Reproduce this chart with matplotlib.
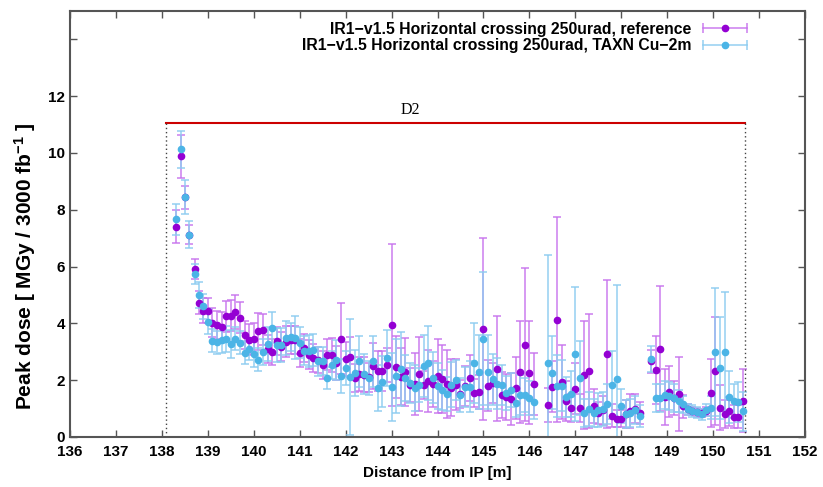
import numpy as np
import matplotlib
matplotlib.use("Agg")
import matplotlib.pyplot as plt
from matplotlib.lines import Line2D
from matplotlib.legend_handler import HandlerLine2D, HandlerTuple

plt.rcParams['font.family'] = ['Liberation Sans', 'DejaVu Sans']
plt.rcParams['mathtext.default'] = 'regular'

# position along the beam line [m]
dist = [138.31, 138.41, 138.50, 138.60, 138.72, 138.80, 138.90, 139.00, 139.10, 139.20,
        139.30, 139.40, 139.50, 139.60, 139.70, 139.80, 139.90, 140.00, 140.10, 140.20,
        140.30, 140.40, 140.50, 140.60, 140.70, 140.80, 140.90, 141.00, 141.10, 141.20,
        141.30, 141.40, 141.50, 141.60, 141.70, 141.80, 141.90, 142.00, 142.10, 142.20,
        142.30, 142.40, 142.50, 142.60, 142.70, 142.80, 142.90, 143.00, 143.10, 143.20,
        143.30, 143.40, 143.50, 143.60, 143.70, 143.80, 143.90, 144.00, 144.10, 144.20,
        144.30, 144.40, 144.50, 144.60, 144.70, 144.80, 144.90, 145.00, 145.10, 145.20,
        145.30, 145.40, 145.50, 145.60, 145.70, 145.80, 145.90, 146.00, 146.10, 146.40,
        146.50, 146.60, 146.70, 146.80, 146.90, 147.00, 147.10, 147.20, 147.30, 147.40,
        147.50, 147.60, 147.70, 147.80, 147.90, 148.00, 148.10, 148.20, 148.30, 148.40,
        148.65, 148.75, 148.85, 148.95, 149.05, 149.15, 149.25, 149.35, 149.45, 149.55,
        149.65, 149.75, 149.85, 149.95, 150.05, 150.15, 150.25, 150.35, 150.45, 150.55,
        150.65]

# reference
dose_ref = [7.41, 9.88, 8.44, 7.13, 5.93, 4.73, 4.45, 4.45, 4.03, 3.95,
            3.89, 4.25, 4.27, 4.41, 4.20, 3.60, 3.42, 3.46, 3.72, 3.78,
            3.10, 3.00, 3.39, 3.18, 3.35, 3.42, 3.42, 2.96, 3.14, 2.90,
            2.78, 2.72, 2.54, 2.90, 2.90, 2.60, 3.46, 2.76, 2.81, 2.08,
            2.22, 2.20, 2.10, 2.50, 2.33, 2.33, 2.54, 3.95, 2.47, 2.12,
            2.29, 1.84, 1.86, 2.22, 1.84, 1.98, 1.86, 2.15, 2.04, 1.86,
            1.73, 1.84, 1.52, 1.80, 2.08, 1.55, 1.58, 3.81, 1.80, 1.90,
            2.40, 1.48, 1.41, 1.34, 1.73, 2.29, 3.25, 2.27, 1.87, 1.13,
            1.77, 4.13, 1.94, 1.28, 1.03, 1.70, 1.03, 2.19, 2.33, 1.08,
            0.85, 0.94, 2.93, 0.75, 0.65, 0.65, 0.80, 0.90, 1.00, 0.85,
            2.66, 2.36, 3.10, 1.41, 1.59, 1.37, 1.52, 1.08, 0.97, 0.92,
            0.87, 0.84, 0.90, 1.55, 2.33, 1.03, 0.80, 0.90, 0.72, 0.72,
            1.28]
err_ref = [0.57, 0.75, 0.40, 0.32, 0.35, 0.40, 0.45, 0.45, 0.50, 0.50,
           0.50, 0.55, 0.55, 0.60, 0.55, 0.50, 0.55, 0.55, 0.65, 0.55,
           0.50, 0.45, 0.50, 0.50, 0.55, 0.50, 0.50, 0.50, 0.50, 0.50,
           0.50, 0.45, 0.50, 0.55, 0.60, 0.60, 1.25, 0.60, 0.70, 0.50,
           0.60, 0.60, 0.50, 0.80, 0.70, 0.70, 0.60, 2.85, 1.10, 1.00,
           1.20, 0.60, 1.10, 1.30, 0.50, 1.10, 0.80, 1.30, 1.20, 1.20,
           1.00, 0.90, 0.50, 0.70, 0.80, 0.50, 0.60, 3.20, 0.90, 0.70,
           1.85, 0.80, 0.80, 0.90, 1.10, 1.80, 2.70, 1.80, 1.10, 0.60,
           0.90, 3.60, 1.30, 0.70, 0.50, 0.90, 0.50, 1.90, 2.00, 0.60,
           0.40, 0.50, 2.60, 0.40, 0.30, 0.30, 0.50, 0.60, 0.50, 0.40,
           0.40, 1.20, 2.20, 1.00, 0.90, 0.60, 1.30, 0.40, 0.20, 0.15,
           0.15, 0.15, 0.15, 1.20, 1.90, 0.80, 0.50, 0.50, 0.40, 0.40,
           1.10]

# TAXN Cu-2m
dose_taxn = [7.66, 10.13, 8.44, 7.13, 5.75, 5.00, 4.60, 4.06, 3.39, 3.33,
             3.42, 3.46, 3.28, 3.46, 3.32, 2.97, 3.10, 2.93, 2.72, 3.00,
             3.28, 3.85, 3.25, 3.25, 3.49, 3.53, 3.50, 3.32, 3.04, 3.03,
             3.06, 2.66, 2.68, 2.08, 2.54, 2.72, 2.15, 2.43, 2.12, 2.26,
             2.66, 2.22, 2.08, 2.66, 1.73, 1.94, 2.78, 1.76, 2.15, 2.40,
             2.08, 1.90, 1.73, 1.84, 2.50, 2.60, 2.08, 1.80, 1.66, 1.52,
             1.84, 2.01, 1.49, 1.76, 1.77, 2.60, 2.29, 3.46, 2.29, 2.03,
             1.87, 1.84, 1.55, 1.66, 1.20, 1.49, 1.47, 1.37, 1.24, 2.60,
             2.27, 1.80, 1.80, 1.41, 1.52, 2.93, 2.08, 0.85, 1.00, 0.84,
             0.95, 1.00, 1.15, 1.84, 2.04, 1.08, 0.82, 0.85, 0.95, 0.74,
             2.74, 1.37, 1.37, 1.47, 1.45, 1.37, 1.27, 1.15, 0.97, 0.92,
             0.87, 0.80, 0.95, 1.03, 3.00, 2.43, 3.00, 1.41, 1.27, 1.24,
             0.90]
err_taxn = [0.53, 0.65, 0.60, 0.47, 0.35, 0.45, 0.45, 0.45, 0.40, 0.40,
            0.45, 0.45, 0.50, 0.40, 0.40, 0.40, 0.40, 0.45, 0.40, 0.45,
            0.60, 0.55, 0.60, 0.60, 0.60, 0.50, 0.75, 0.55, 0.50, 0.55,
            0.55, 0.50, 0.50, 0.40, 0.50, 0.70, 0.60, 0.60, 2.05, 0.80,
            0.90, 0.70, 0.60, 0.90, 0.80, 0.90, 1.00, 1.20, 1.30, 1.30,
            0.80, 0.70, 0.80, 0.60, 1.10, 1.30, 0.90, 0.80, 0.70, 0.60,
            0.80, 0.70, 0.60, 0.70, 0.90, 1.40, 1.30, 2.35, 1.30, 0.90,
            0.90, 0.70, 0.60, 0.60, 0.50, 0.70, 0.60, 0.60, 0.60, 3.80,
            1.30, 1.10, 0.90, 0.70, 0.80, 2.35, 1.30, 0.50, 0.60, 0.50,
            0.60, 0.60, 0.70, 1.20, 3.30, 0.60, 0.50, 0.50, 0.50, 0.40,
            0.45, 0.50, 0.50, 0.50, 0.50, 0.50, 0.40, 0.30, 0.20, 0.20,
            0.20, 0.20, 0.20, 0.40, 2.25, 1.80, 2.10, 0.90, 0.60, 0.70,
            0.70]

labels = ['IR1\u2212v1.5 Horizontal crossing 250urad, reference',
          'IR1\u2212v1.5 Horizontal crossing 250urad, TAXN Cu\u22122m']
pt_colors = ['#9400D3', '#4BB4E6']
bar_colors = [(0.78, 0.45, 0.93, 0.85), (0.55, 0.80, 0.94, 0.85)]

d2_start, d2_end, d2_level = 138.1, 150.7, 11.05

fig = plt.figure(figsize=(8.23, 4.87), dpi=100)
ax = fig.add_axes([70 / 823, 50 / 487, 735 / 823, 426 / 487])

handles = []
hmap = {}
for y, e, pc, bc in zip([dose_ref, dose_taxn], [err_ref, err_taxn], pt_colors, bar_colors):
    ax.errorbar(dist, y, yerr=e, fmt='o', color=pc, ms=4.5, ecolor=bc,
                elinewidth=1.2, capsize=3, capthick=1.2)
    # gnuplot style key sample: horizontal bar with end caps and a dot
    caps = Line2D([], [], color=bc, lw=1.2, marker='|', ms=7, mew=1.2)
    dot = Line2D([], [], ls='none', marker='o', color=pc, ms=4.5)
    hmap[caps] = HandlerLine2D(numpoints=2)
    hmap[dot] = HandlerLine2D(numpoints=1)
    handles.append((caps, dot))
hmap[tuple] = HandlerTuple(ndivide=1)

# D2 magnet extent
ax.plot([d2_start, d2_end], [d2_level, d2_level], color='#CC0000', lw=1.5)
ax.plot([d2_start, d2_start], [0, d2_level], color='#444444', lw=1, ls=(0, (1, 2)))
ax.plot([d2_end, d2_end], [0, d2_level], color='#444444', lw=1, ls=(0, (1, 2)))
ax.text(143.4, d2_level + 0.2, 'D2', family='Liberation Serif', fontsize=11.5,
        ha='center', va='bottom')

ax.set_xlim(136, 152)
ax.set_ylim(0, 15)
ax.set_xticks(np.arange(136, 153, 1))
ax.set_yticks(np.arange(0, 15, 2))
ax.set_yticklabels([str(v) for v in range(0, 13, 2)] + [''])
ax.tick_params(direction='in', top=True, right=True, length=5, width=1,
               labelsize=11, color='#555555')
ax.tick_params(axis='x', pad=6)
for lbl in ax.get_xticklabels() + ax.get_yticklabels():
    lbl.set_fontweight('bold')
for sp in ax.spines.values():
    sp.set_linewidth(1.5)
    sp.set_color('#555555')

ax.set_xlabel('Distance from IP [m]', fontsize=11, fontweight='bold', labelpad=5)
ax.set_ylabel('Peak dose [ MGy / 3000 fb$^{-1}$ ]', fontsize=15, fontweight='bold')
ax.yaxis.set_label_coords(-0.043, 0.40)

leg = ax.legend(handles, labels, handler_map=hmap, loc='upper right',
                bbox_to_anchor=(0.936, 0.99), frameon=False, markerfirst=False,
                fontsize=11.3, handlelength=3.4, labelspacing=0.12,
                borderaxespad=0, handletextpad=0.45)
for t in leg.get_texts():
    t.set_fontweight('bold')

fig.savefig('out.png', dpi=100)
